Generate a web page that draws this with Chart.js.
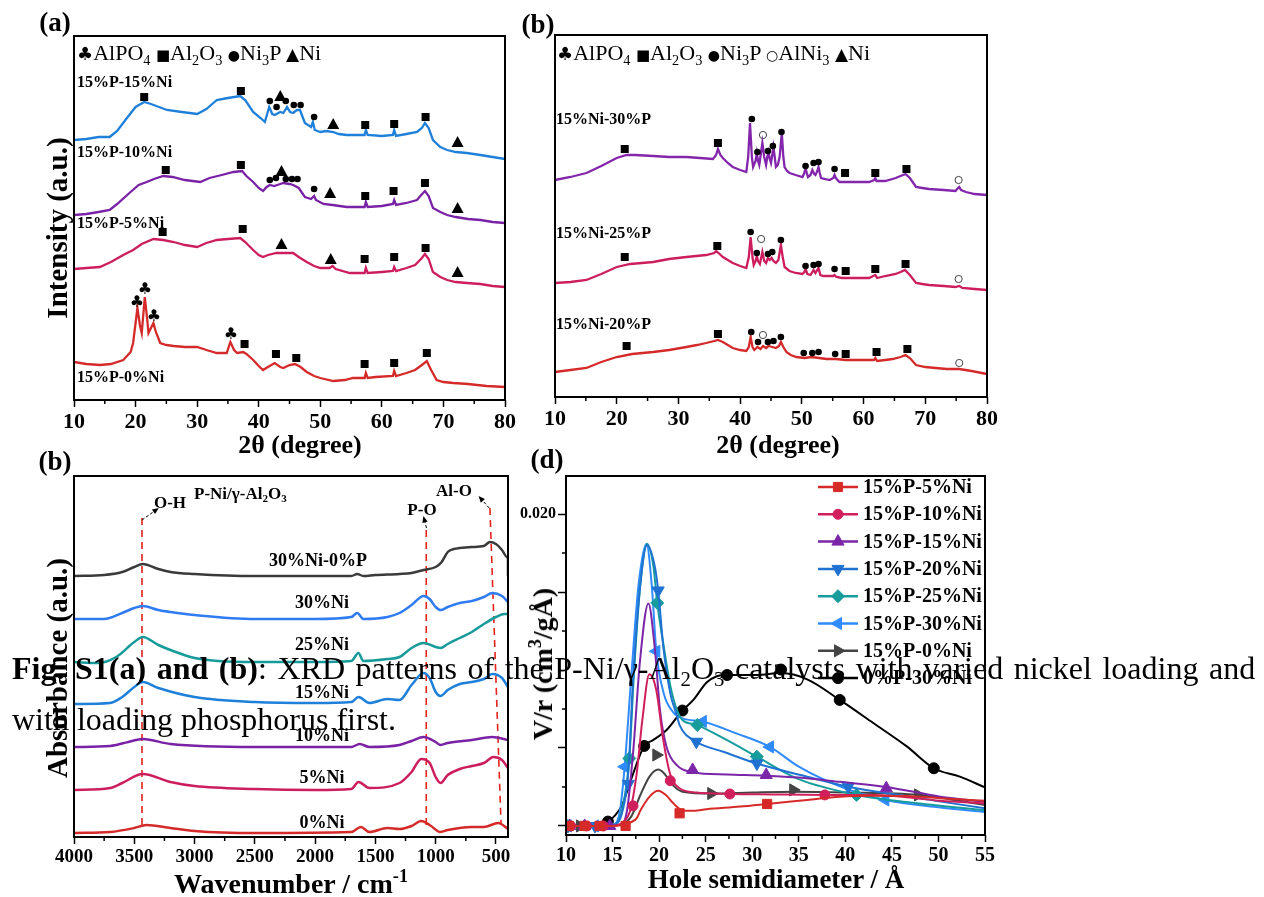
<!DOCTYPE html>
<html>
<head>
<meta charset="utf-8">
<script src="https://cdn.jsdelivr.net/npm/chart.js@4.4.1/dist/chart.umd.min.js"></script>
<style>
body { margin: 0; background: #fff; width: 1264px; height: 897px; position: relative; overflow: hidden;
       font-family: "Liberation Serif", "Times New Roman", serif; }
canvas { position: absolute; }
.t { position: absolute; white-space: nowrap; color: #000; line-height: 1; }
sub { font-size: 65%; vertical-align: -0.35em; line-height: 0; }
sup { font-size: 65%; vertical-align: 0.6em; line-height: 0; }
.sy { font-family: "DejaVu Sans", sans-serif; }
</style>
</head>
<body>
<canvas id="xrdA" width="520" height="460" style="left:0;top:0"></canvas>
<canvas id="xrdB" width="480" height="460" style="left:520px;top:0"></canvas>
<canvas id="ftir" width="520" height="437" style="left:0;top:460px"></canvas>
<canvas id="psd" width="480" height="437" style="left:520px;top:460px"></canvas>
<script>
const FONT = '"Liberation Serif", "Times New Roman", serif';

// ---- tick values ----
const XRD_TICKS = [10, 20, 30, 40, 50, 60, 70, 80];
const XRD_MINOR = [15, 25, 35, 45, 55, 65, 75];
const FTIR_TICKS = [4000, 3500, 3000, 2500, 2000, 1500, 1000, 500];
const FTIR_MINOR = [3750, 3250, 2750, 2250, 1750, 1250, 750];
const PSD_XTICKS = [10, 15, 20, 25, 30, 35, 40, 45, 50, 55];
const PSD_XMINOR = [12.5, 17.5, 22.5, 27.5, 32.5, 37.5, 42.5, 47.5, 52.5];
const PSD_YTICKS = [0, 0.005, 0.010, 0.015, 0.020];
const PSD_YLABELS = ['', '', '', '', '0.020'];
const PSD_YMINOR = [0.0025, 0.0075, 0.0125, 0.0175];

// ---- (a) XRD, 2theta vs intensity (a.u.) ----
const XRD_A_15NI = [[10,260],[12,261],[14,263],[15.8,263],[17,269],[18.6,282],[20,293],[21.4,298],[22.5,296],[25.1,290],[27.5,288],[30,286],[31.5,291],[33.2,300],[35,302],[37,304],[37.8,300],[39.1,288],[40.3,282],[41,278],[41.7,293],[42.2,286],[42.6,285],[43.5,288],[44,287],[44.6,293],[45.1,288],[45.6,287],[46.2,290],[46.7,290],[47.5,277],[48.5,273],[48.8,278],[49.1,270],[50,268],[51,269],[52.1,268],[53,266],[54.3,265],[56,265],[57.2,265],[57.4,270],[57.7,265],[60,264],[61.8,265],[62,270],[62.3,264],[64,266],[65.7,268],[66.5,272],[67,277],[67.6,272],[68.3,260],[69.5,253],[70.6,250],[72,248],[73.8,247],[76,245],[78,243],[80,241]];
const XRD_A_10NI = [[10,185],[12,186],[14,188],[15.8,190],[17,196],[19,207],[20.5,215],[21.8,218],[23,221],[24.5,224],[26,223],[28,220],[30.5,218],[32,222],[34,225],[35.9,228],[37.3,229],[38,224],[39.1,218],[40,212],[40.7,209],[41.3,213],[41.8,215],[42.5,214],[43.5,216],[44,217],[45,216],[45.6,215],[46.5,212],[47.5,203],[48.5,201],[49,204],[49.3,200],[50.5,196],[52,195],[54.3,193],[56,193],[57.2,193],[57.4,198],[57.7,193],[60,194],[61.8,196],[62,200],[62.3,195],[64,197],[65.7,200],[66.4,205],[67,209],[67.6,204],[68.3,192],[69.5,188],[70.6,185],[72,183],[74,181],[76,180],[78,178],[80,177]];
const XRD_A_5NI = [[10,131],[12,132],[14.2,133],[16,138],[18,145],[19.6,150],[21,156],[22.9,161],[24.5,160],[26.2,158],[28,155],[30,153],[31.5,157],[33.2,160],[35,161],[37,162],[37.8,158],[39.1,150],[40,145],[40.7,143],[41.5,145],[42.9,147],[44,147],[45.6,147],[46.5,143],[47.8,138],[49,134],[50,132],[51.5,132],[52,134],[52.5,131],[54.8,127],[56.5,127],[57.2,127],[57.4,132],[57.7,127],[60,128],[61.8,129],[62,133],[62.3,129],[64,132],[65.4,135],[66.5,142],[67,146],[67.6,141],[68.3,128],[69.5,123],[70.6,120],[72,118],[73.8,117],[76,116],[78,114],[80,113]];
const XRD_A_0NI = [[10,38],[12,36],[14.2,35],[16,36],[18,40],[19.2,48],[19.6,57],[20.3,92],[20.7,75],[21,67],[21.5,103],[21.9,80],[22.1,67],[22.5,72],[22.9,77],[23.3,68],[24,57],[25,55],[26.2,54],[28,53],[30,53],[31.5,50],[33.2,47],[34.8,47],[35.4,58],[36,50],[36.5,47],[37.5,48],[38,46],[39.1,40],[40,34],[40.7,30],[41.5,33],[42.6,37],[43.5,33],[44,32],[45,35],[45.9,36],[46.8,33],[47.8,28],[49,24],[50,22],[52.1,19],[54,20],[55.3,22],[56.8,22],[57.2,22],[57.4,27],[57.7,22],[59,23],[61.8,24],[62,29],[62.3,24],[64,27],[65.4,30],[66.5,35],[67.3,39],[68,30],[68.9,20],[70,18],[71.6,17],[74,16],[77,14],[80,13]];
const A_AL2O3 = [[21.4,303],[37.1,309],[57.3,275],[62.0,276],[67.1,283],[24.9,230],[37.1,235],[57.3,204],[61.9,209],[67.0,217],[24.4,168],[37.4,171],[57.2,141],[62.0,143],[67.1,152],[37.7,56],[42.8,46],[46.1,42],[57.2,36],[62.0,37],[67.3,47]];
const A_NI3P = [[41.8,299],[42.9,293],[44.4,299],[45.7,295],[46.8,295],[49.0,283],[41.8,220],[42.8,222],[44.4,221],[45.4,221],[46.3,221],[49.0,211]];
const A_NI = [[43.5,304],[52.1,276],[72.3,258],[43.7,229],[51.6,207],[72.3,192],[43.7,156],[51.7,141],[72.3,128]];
const A_ALPO4 = [[20.2,97],[21.5,110],[23.0,83],[35.5,65]];

// ---- (b) XRD, phosphorus loading ----
const XRD_B_30P = [[10,217],[12.5,220],[15.1,224],[17.5,231],[20,239],[21.6,242],[23,242],[25.9,241],[28.5,240],[31.3,240],[33.5,239],[35.6,238],[36.1,242],[36.4,248],[36.8,242],[37.2,239],[38,234],[38.8,230],[40,227],[41,225],[41.3,240],[41.6,274],[41.9,240],[42.1,230],[42.5,236],[42.7,244],[42.9,236],[43.1,232],[43.4,245],[43.6,254],[43.9,240],[44.2,232],[44.4,240],[44.6,245],[44.8,238],[45,234],[45.2,242],[45.4,250],[45.6,240],[45.8,230],[46.1,232],[46.4,240],[46.75,264],[47.0,240],[47.2,230],[47.6,226],[48,224],[49,222],[50.1,220],[50.4,224],[50.6,229],[50.8,224],[51,220],[51.4,222],[51.7,227],[52,223],[52.2,222],[52.5,226],[52.7,230],[52.9,224],[53.1,219],[54.5,217],[55.1,219],[55.3,222],[55.5,219],[56.1,215],[58,215],[60.9,215],[61.7,217],[61.9,219],[62.1,216],[63.5,216],[65.2,219],[66,221],[66.8,223],[67.5,219],[68.5,210],[69.5,209],[70.6,208],[73,207],[74.9,206],[75.3,209],[75.5,210],[75.8,207],[76.6,205],[78,203],[80,202]];
const XRD_B_25P = [[10,114],[12.5,115],[15.1,117],[17.5,123],[20,130],[22.2,133],[25.9,135],[28.5,138],[31.3,140],[34.5,142],[35.8,144],[36.1,146],[36.5,144],[37.2,140],[38,137],[38.8,134],[40,131],[41,129],[41.4,140],[41.7,160],[42.0,140],[42.2,132],[42.5,136],[42.7,141],[42.9,136],[43.2,133],[43.6,145],[43.9,136],[44.2,134],[44.5,139],[44.8,137],[45.1,139],[45.4,136],[45.8,134],[46.2,137],[46.6,152],[46.9,140],[47.2,130],[48,126],[49,124],[50.1,123],[50.4,125],[50.6,128],[50.9,123],[51.4,122],[51.9,127],[52.2,124],[52.7,129],[53,122],[53.5,121],[55.1,121],[55.3,122],[55.6,120],[56.5,119],[58,119],[60.9,119],[61.9,122],[62.2,119],[63.5,121],[65.2,123],[66,125],[66.7,127],[67.5,122],[68.5,114],[69.5,113],[70.6,112],[73,111],[74.9,110],[75.5,111],[76,109],[78,108],[80,107]];
const XRD_B_20P = [[10,25],[12.5,27],[15.1,29],[17.5,35],[20,40],[22.5,43],[25.9,45],[28.5,47],[31.3,50],[33,52],[34.5,54],[35.8,56],[36.4,57],[37.2,55],[38,52],[38.8,49],[40,47],[41,46],[41.4,50],[41.7,60],[42,50],[42.3,47],[42.8,50],[43.3,48],[43.7,51],[44.2,49],[44.6,51],[45.2,50],[45.8,49],[46.3,51],[46.6,55],[47,50],[47.5,45],[48.2,42],[49.1,40],[50.5,39],[51.5,40],[52.8,39],[54,38],[55.5,38],[57.1,37],[59,37],[61.7,37],[61.9,39],[62.2,36],[63.5,37],[64.7,38],[66,40],[66.8,42],[67.5,39],[68.5,32],[70,30],[71.7,29],[73.5,28],[75.5,28],[77.5,26],[80,23]];
const B_AL2O3 = [[21.3,248],[36.4,254],[57.0,224],[61.9,224],[66.95,228],[21.3,140],[36.3,151],[57.1,126],[61.9,128],[66.8,133],[21.6,51],[36.4,63],[57.1,43],[62.1,45],[67.1,48]];
const B_NI3P = [[41.9,278],[42.8,245],[44.5,246],[45.3,251],[46.7,265],[50.6,231],[51.9,234],[52.7,235],[55.3,228],[41.7,165],[42.7,144],[44.5,143],[45.2,145],[46.6,157],[50.6,131],[51.9,132],[52.7,133],[55.3,128],[41.8,65],[42.9,55],[44.5,55],[45.4,56],[46.6,60],[50.3,44],[51.7,44],[52.7,45],[55.4,43]];
const B_ALNI3 = [[43.7,262],[75.4,217],[43.4,158],[75.4,118],[43.7,62],[75.5,34]];

// ---- (b) FTIR, wavenumber vs absorbance (a.u.) ----
const FTIR_30NI_0P = [[4000,261],[3750,262],[3600,265],[3500,270],[3430,273],[3300,268],[3200,265],[3000,263],[2500,261],[2000,261],[1700,261],[1650,263],[1600,261],[1500,262],[1300,263],[1200,264],[1100,267],[1000,270],[950,275],[900,285],[850,288],[800,289],[700,290],[600,291],[550,295],[500,293],[450,287],[400,279],[400,261]];
const FTIR_30NI = [[4000,218],[3750,218],[3600,224],[3500,229],[3430,231],[3300,227],[3200,225],[3000,222],[2500,218],[2000,218],[1700,220],[1650,224],[1600,218],[1400,220],[1300,224],[1200,232],[1100,241],[1050,238],[1000,230],[960,227],[900,230],[800,234],[700,236],[600,240],[530,244],[450,241],[400,235]];
const FTIR_25NI = [[4000,175],[3800,174],[3650,180],[3500,195],[3430,200],[3300,192],[3200,187],[3000,179],[2800,176],[2500,175],[2000,175],[1700,176],[1640,184],[1600,176],[1400,178],[1300,180],[1200,189],[1100,194],[1000,190],[960,189],[900,193],[800,199],[700,205],[600,213],[500,220],[430,223],[400,223]];
const FTIR_15NI = [[4000,133],[3700,134],[3600,140],[3500,150],[3430,155],[3300,149],[3000,140],[2500,135],[2000,134],[1700,135],[1640,140],[1550,134],[1400,138],[1300,137],[1200,152],[1100,164],[1050,159],[1000,145],[960,141],[900,147],[800,153],[700,155],[600,158],[530,163],[450,159],[400,150]];
const FTIR_10NI = [[4000,90],[3700,91],[3550,95],[3430,98],[3200,93],[2500,90],[1700,90],[1630,93],[1550,90],[1300,92],[1200,96],[1100,100],[1000,95],[960,92],[900,94],[700,97],[530,100],[400,97]];
const FTIR_5NI = [[4000,47],[3700,49],[3600,54],[3430,63],[3200,55],[3000,51],[2500,48],[2000,47],[1700,48],[1640,55],[1550,49],[1300,54],[1200,65],[1120,78],[1050,74],[1000,60],[960,54],[900,62],[800,68],[700,71],[600,74],[520,80],[450,77],[400,69]];
const FTIR_0NI = [[4000,4],[3700,5],[3500,9],[3400,12],[3200,9],[3000,6],[2500,4],[1700,5],[1620,10],[1550,5],[1400,9],[1300,8],[1200,11],[1120,16],[1050,12],[960,5],[900,7],[700,10],[600,10],[480,14],[400,8]];
const FTIR_OH = [[3436,319],[3436,9]];
const FTIR_PO = [[1078,307],[1078,7]];
const FTIR_ALO = [[550,329],[458,14]];

// ---- (d) pore size distribution, r (A) vs V/r ----
const PSD_5NI = [[10,0],[12,0],[14,0],[15.5,0.00002],[16.5,0.0001],[17,0.00025],[17.6,0.0005],[18,0.001],[19,0.0019],[19.9,0.00226],[20.7,0.002],[21.5,0.00147],[22.6,0.00098],[23.5,0.00097],[25.1,0.00107],[28.7,0.00124],[31.6,0.00141],[35.9,0.00167],[39.4,0.00188],[43,0.00194],[46.6,0.00192],[50.2,0.00177],[55,0.00162]];
const PSD_5NI_PTS = [[10.3,0],[12,0],[13.6,0],[16.4,0],[22.2,0.00081],[31.6,0.00141]];
const PSD_10NI = [[10,0],[14,0],[15.2,0.00002],[16.2,0.00028],[16.9,0.001],[17.6,0.0034],[18.2,0.0068],[18.95,0.00972],[19.7,0.0087],[20.45,0.0055],[21.2,0.0033],[22.2,0.00242],[24,0.00214],[27.6,0.00205],[32,0.00202],[37.8,0.00199],[43,0.00199],[50.2,0.00162],[55,0.00145]];
const PSD_10NI_PTS = [[10.5,0],[12.2,0],[14,0],[17.2,0.00129],[21.2,0.0029],[27.6,0.00205],[37.8,0.00199]];
const PSD_15NI = [[10,0],[14,0],[15.8,0.0001],[16.5,0.0008],[17.2,0.00466],[17.95,0.0106],[18.85,0.01427],[19.55,0.0113],[20.1,0.0074],[20.8,0.00507],[21.9,0.0039],[23.6,0.00345],[27.3,0.0033],[31.5,0.00322],[35,0.0031],[39.4,0.00283],[44.4,0.0025],[50.2,0.00188],[55,0.00155]];
const PSD_15NI_PTS = [[10.4,0],[12,0],[14.7,0],[23.6,0.00359],[31.5,0.00327],[44.4,0.00242]];
const PSD_20NI = [[10,0],[14,0],[15.3,0.0001],[16,0.0008],[16.7,0.0035],[17.2,0.00936],[17.95,0.0153],[18.7,0.018],[19.55,0.0166],[19.9,0.0151],[20.45,0.0115],[21.2,0.0085],[21.9,0.0071],[22.2,0.00647],[24,0.0054],[26.9,0.00476],[30.5,0.004],[35.9,0.00316],[40.3,0.00252],[46.6,0.0019],[55,0.00113]];
const PSD_20NI_PTS = [[10.2,0],[13.1,0],[16.7,0.0027],[19.9,0.0151],[24,0.0054],[30.5,0.004],[40.3,0.00252]];
const PSD_25NI = [[10,0],[14,0],[15.3,0.0001],[16,0.001],[16.8,0.00433],[17.3,0.0098],[18,0.0156],[18.7,0.0181],[19.4,0.0166],[19.8,0.0143],[20.5,0.0115],[21.2,0.009],[22,0.0073],[22.5,0.0068],[24.1,0.00647],[27.3,0.0055],[30.5,0.00444],[35,0.003],[41.2,0.00199],[47,0.0015],[55,0.001]];
const PSD_25NI_PTS = [[10.2,0],[16.8,0.00433],[19.8,0.0143],[24.1,0.00647],[30.5,0.00444],[41.2,0.00199]];
const PSD_30NI = [[10,0],[14,0],[15.2,0.0001],[15.8,0.001],[16.3,0.0038],[17,0.0095],[17.8,0.0155],[18.65,0.0181],[19.2,0.0155],[19.7,0.0112],[20.5,0.0085],[21.5,0.0073],[22.5,0.0069],[24.7,0.0067],[28,0.006],[31.9,0.00507],[35,0.0038],[40,0.0024],[44.3,0.00167],[50,0.0012],[55,0.0009]];
const PSD_30NI_PTS = [[10.2,0],[13.1,0],[16.3,0.0038],[19.7,0.0112],[24.7,0.0067],[31.9,0.00507],[44.3,0.00167]];
const PSD_0NI = [[10,0],[14,0],[15,0.00002],[16,0.0001],[17,0.0006],[18,0.002],[19,0.0032],[19.9,0.00362],[20.5,0.0034],[21.5,0.0026],[22.5,0.0022],[25.6,0.00208],[30,0.00215],[34.4,0.0022],[40,0.00215],[47.8,0.00199],[55,0.00135]];
const PSD_0NI_PTS = [[11.5,0],[19.7,0.00455],[25.6,0.00208],[34.4,0.00231],[47.8,0.00199]];
const PSD_0P = [[10,0.00005],[12,0.00005],[13.5,0.0001],[14.5,0.00028],[15.3,0.0007],[16,0.0013],[17,0.003],[18.4,0.00513],[19.35,0.0055],[20.8,0.00615],[22.5,0.0074],[23.7,0.0081],[25.1,0.0092],[26.2,0.0096],[27.3,0.00968],[30.5,0.00968],[33.1,0.0098],[35.9,0.0094],[39.4,0.00808],[43,0.0066],[46.6,0.0051],[49.5,0.0037],[52.3,0.00316],[55,0.00247]];
const PSD_0P_PTS = [[14.5,0.00028],[18.4,0.00513],[22.5,0.0074],[27.3,0.00968],[33.1,0.01003],[39.4,0.00808],[49.5,0.0037]];

// ---- helpers ----
const pts = arr => arr.map(([x, y]) => ({ x, y }));

function drawMark(ctx, type, px, py) {
    ctx.fillStyle = '#000';
    ctx.strokeStyle = '#000';
    if (type === 'sq') {
        ctx.fillRect(px - 4, py - 4, 8, 8);
    } else if (type === 'dot') {
        ctx.beginPath(); ctx.arc(px, py, 3.3, 0, Math.PI * 2); ctx.fill();
    } else if (type === 'ring') {
        ctx.lineWidth = 1; ctx.strokeStyle = '#444';
        ctx.beginPath(); ctx.arc(px, py, 3.6, 0, Math.PI * 2); ctx.stroke();
    } else if (type === 'tri') {
        ctx.beginPath(); ctx.moveTo(px, py - 6); ctx.lineTo(px + 6, py + 5); ctx.lineTo(px - 6, py + 5); ctx.closePath(); ctx.fill();
    } else if (type === 'club') {
        ctx.font = '16px "DejaVu Sans"'; ctx.textAlign = 'center'; ctx.textBaseline = 'middle';
        ctx.fillText('\u2663', px, py);
    }
}

// frame + short minor ticks
const framePlugin = {
    id: 'frame',
    afterDraw(chart, args, o) {
        const { ctx, chartArea: a, scales } = chart;
        ctx.save();
        ctx.strokeStyle = '#000';
        ctx.lineWidth = 2;
        ctx.strokeRect(a.left, a.top, a.right - a.left, a.bottom - a.top);
        ctx.lineWidth = 1.5;
        ctx.beginPath();
        (o.minorX || []).forEach(v => {
            const x = scales.x.getPixelForValue(v);
            ctx.moveTo(x, a.bottom); ctx.lineTo(x, a.bottom + 4);
        });
        (o.minorY || []).forEach(v => {
            const y = scales.y.getPixelForValue(v);
            ctx.moveTo(a.left, y); ctx.lineTo(a.left - 4, y);
        });
        ctx.stroke();
        ctx.restore();
    }
};

// phase symbols above the XRD peaks
const marksPlugin = {
    id: 'marks',
    afterDatasetsDraw(chart, args, o) {
        if (!o.groups) return;
        const { ctx, scales: { x, y } } = chart;
        ctx.save();
        o.groups.forEach(g => g.pts.forEach(([vx, vy]) => drawMark(ctx, g.type, x.getPixelForValue(vx), y.getPixelForValue(vy))));
        ctx.restore();
    }
};

// small dashed arrows of the FTIR panel
const arrowPlugin = {
    id: 'arrows',
    afterDatasetsDraw(chart, args, o) {
        if (!o.list) return;
        const { ctx, scales: { x, y } } = chart;
        ctx.save();
        o.list.forEach(({ from, to }) => {
            const x0 = x.getPixelForValue(from[0]), y0 = y.getPixelForValue(from[1]);
            const x1 = x.getPixelForValue(to[0]), y1 = y.getPixelForValue(to[1]);
            const ang = Math.atan2(y1 - y0, x1 - x0);
            ctx.strokeStyle = '#000'; ctx.fillStyle = '#000'; ctx.lineWidth = 1;
            ctx.setLineDash([3, 2]);
            ctx.beginPath(); ctx.moveTo(x0, y0); ctx.lineTo(x1 - 5 * Math.cos(ang), y1 - 5 * Math.sin(ang)); ctx.stroke();
            ctx.setLineDash([]);
            ctx.beginPath();
            ctx.moveTo(x1, y1);
            ctx.lineTo(x1 - 7 * Math.cos(ang - 0.4), y1 - 7 * Math.sin(ang - 0.4));
            ctx.lineTo(x1 - 7 * Math.cos(ang + 0.4), y1 - 7 * Math.sin(ang + 0.4));
            ctx.closePath(); ctx.fill();
        });
        ctx.restore();
    }
};

// legend with line + marker for panel (d)
const legendPlugin = {
    id: 'lineLegend',
    afterDraw(chart, args, o) {
        if (!o.left) return;
        const ctx = chart.ctx;
        const marks = chart.data.datasets.filter(d => d.isMark);
        ctx.save();
        marks.forEach((d, i) => {
            const y = o.top + i * o.gap;
            ctx.strokeStyle = d.borderColor; ctx.lineWidth = 2.5;
            ctx.beginPath(); ctx.moveTo(o.left, y); ctx.lineTo(o.left + 40, y); ctx.stroke();
            ctx.fillStyle = d.backgroundColor; ctx.lineWidth = 1;
            Chart.helpers.drawPoint(ctx, { pointStyle: d.pointStyle, rotation: d.pointRotation, radius: d.pointRadius, borderWidth: 1 }, o.left + 20, y);
            ctx.fillStyle = '#000';
            ctx.font = 'bold 20px ' + FONT;
            ctx.textAlign = 'left'; ctx.textBaseline = 'middle';
            ctx.fillText(d.label, o.left + 45, y + 1);
        });
        ctx.restore();
    }
};

Chart.register(framePlugin, marksPlugin, arrowPlugin, legendPlugin);
Chart.defaults.font.family = FONT;
Chart.defaults.color = '#000';

function xAxis(min, max, ticks, size, height, reverse) {
    return {
        type: 'linear', min, max, reverse: !!reverse,
        afterBuildTicks: s => { s.ticks = ticks.map(v => ({ value: v })); },
        afterFit: s => { s.height = height; },
        grid: { drawOnChartArea: false, tickLength: 7, tickWidth: 1.5, tickColor: '#000' },
        border: { display: false },
        ticks: { color: '#000', font: { size, weight: 'bold' }, padding: 2, maxRotation: 0, autoSkip: false, callback: v => String(v) }
    };
}

function lineSet(data, color, width, smooth) {
    return {
        data: pts(data), borderColor: color, borderWidth: width, pointRadius: 0, fill: false,
        tension: smooth ? 0.4 : 0, cubicInterpolationMode: smooth ? 'monotone' : 'default'
    };
}

const baseOpts = { responsive: false, animation: false, events: [], devicePixelRatio: 1 };

// (a)
new Chart(document.getElementById('xrdA'), {
    type: 'line',
    data: { datasets: [
        lineSet(XRD_A_15NI, '#1f80da', 2.3),
        lineSet(XRD_A_10NI, '#7a22a6', 2.3),
        lineSet(XRD_A_5NI, '#cc1e5e', 2.3),
        lineSet(XRD_A_0NI, '#d42a2a', 2.3)
    ] },
    options: { ...baseOpts,
        layout: { padding: { left: 74, right: 15, top: 36, bottom: 0 } },
        scales: { x: xAxis(10, 80, XRD_TICKS, 22, 60), y: { display: false, min: 0, max: 364 } },
        plugins: { legend: { display: false }, tooltip: { enabled: false },
            frame: { minorX: XRD_MINOR },
            marks: { groups: [ { type: 'sq', pts: A_AL2O3 }, { type: 'dot', pts: A_NI3P }, { type: 'tri', pts: A_NI }, { type: 'club', pts: A_ALPO4 } ] } }
    }
});

// (b) top
new Chart(document.getElementById('xrdB'), {
    type: 'line',
    data: { datasets: [
        lineSet(XRD_B_30P, '#8326ac', 2.3),
        lineSet(XRD_B_25P, '#cc1e5e', 2.3),
        lineSet(XRD_B_20P, '#d42a2a', 2.3)
    ] },
    options: { ...baseOpts,
        layout: { padding: { left: 35, right: 12, top: 35, bottom: 0 } },
        scales: { x: xAxis(10, 80, XRD_TICKS, 22, 63), y: { display: false, min: 0, max: 362 } },
        plugins: { legend: { display: false }, tooltip: { enabled: false },
            frame: { minorX: XRD_MINOR },
            marks: { groups: [ { type: 'sq', pts: B_AL2O3 }, { type: 'dot', pts: B_NI3P }, { type: 'ring', pts: B_ALNI3 } ] } }
    }
});

// (b) FTIR
const dashed = data => ({ data: pts(data), borderColor: '#e3231c', borderWidth: 1.6, borderDash: [7, 5], pointRadius: 0, fill: false });
new Chart(document.getElementById('ftir'), {
    type: 'line',
    data: { datasets: [
        lineSet(FTIR_30NI_0P, '#3a3a3a', 2.5, true),
        lineSet(FTIR_30NI, '#2f7cf2', 2.5, true),
        lineSet(FTIR_25NI, '#179a9a', 2.5, true),
        lineSet(FTIR_15NI, '#1f80da', 2.5, true),
        lineSet(FTIR_10NI, '#7a22a6', 2.5, true),
        lineSet(FTIR_5NI, '#cc1e5e', 2.5, true),
        lineSet(FTIR_0NI, '#d42a2a', 2.5, true),
        dashed(FTIR_OH), dashed(FTIR_PO), dashed(FTIR_ALO)
    ] },
    options: { ...baseOpts,
        layout: { padding: { left: 74, right: 12, top: 16, bottom: 0 } },
        scales: { x: xAxis(400, 4000, FTIR_TICKS, 19, 60, true), y: { display: false, min: 0, max: 361 } },
        plugins: { legend: { display: false }, tooltip: { enabled: false },
            frame: { minorX: FTIR_MINOR },
            arrows: { list: [ { from: [3436, 317], to: [3297, 329] }, { from: [1076, 309], to: [1102, 321] }, { from: [556, 329], to: [644, 341] } ] } }
    }
});

// (d) pore size distribution
const PSD_SERIES = [
    { label: '15%P-5%Ni', line: PSD_5NI, marks: PSD_5NI_PTS, color: '#d62a28', style: 'rect', rot: 0, r: 6.5 },
    { label: '15%P-10%Ni', line: PSD_10NI, marks: PSD_10NI_PTS, color: '#d01f5c', style: 'circle', rot: 0, r: 5 },
    { label: '15%P-15%Ni', line: PSD_15NI, marks: PSD_15NI_PTS, color: '#7b26a8', style: 'triangle', rot: 0, r: 7 },
    { label: '15%P-20%Ni', line: PSD_20NI, marks: PSD_20NI_PTS, color: '#1f72d2', style: 'triangle', rot: 180, r: 7 },
    { label: '15%P-25%Ni', line: PSD_25NI, marks: PSD_25NI_PTS, color: '#169c9c', style: 'rectRot', rot: 0, r: 6.5 },
    { label: '15%P-30%Ni', line: PSD_30NI, marks: PSD_30NI_PTS, color: '#2f8bff', style: 'triangle', rot: 270, r: 7 },
    { label: '15%P-0%Ni', line: PSD_0NI, marks: PSD_0NI_PTS, color: '#444444', style: 'triangle', rot: 90, r: 7 },
    { label: '0%P-30%Ni', line: PSD_0P, marks: PSD_0P_PTS, color: '#000000', style: 'circle', rot: 0, r: 5.5 }
];
const psdSets = [];
PSD_SERIES.forEach(s => {
    psdSets.push(lineSet(s.line, s.color, 2, true));
    psdSets.push({ label: s.label, isMark: true, data: pts(s.marks), showLine: false,
        pointStyle: s.style, pointRotation: s.rot, pointRadius: s.r,
        backgroundColor: s.color, borderColor: s.color, pointBorderWidth: 1 });
});
new Chart(document.getElementById('psd'), {
    type: 'line',
    data: { datasets: psdSets },
    options: { ...baseOpts,
        layout: { padding: { left: 0, right: 15, top: 16, bottom: 0 } },
        scales: {
            x: xAxis(10, 55, PSD_XTICKS, 20, 62),
            y: { type: 'linear', min: -0.00058, max: 0.02244,
                afterBuildTicks: s => { s.ticks = PSD_YTICKS.map(v => ({ value: v })); },
                afterFit: s => { s.width = 46; },
                grid: { drawOnChartArea: false, tickLength: 8, tickWidth: 1.5, tickColor: '#000' },
                border: { display: false },
                ticks: { color: '#000', font: { size: 16, weight: 'bold' }, padding: 2,
                    callback: (v, i) => PSD_YLABELS[PSD_YTICKS.findIndex(t => Math.abs(t - v) < 1e-9)] || '' } }
        },
        plugins: { legend: { display: false }, tooltip: { enabled: false },
            frame: { minorX: PSD_XMINOR, minorY: PSD_YMINOR },
            lineLegend: { left: 298, top: 27, gap: 27.3 } }
    }
});

// ---- text ----
function put(html, x, y, o = {}) {
    const d = document.createElement('div');
    d.className = 't';
    d.innerHTML = html;
    d.style.left = x + 'px';
    d.style.top = y + 'px';
    d.style.fontSize = (o.size || 16) + 'px';
    if (o.bold) d.style.fontWeight = 'bold';
    const tx = o.left ? '0' : '-50%';
    const ty = o.top ? '0' : '-50%';
    d.style.transform = `translate(${tx},${ty})` + (o.rot ? ` rotate(${o.rot}deg)` : '');
    document.body.appendChild(d);
    return d;
}

put('(a)', 55, 22, { size: 27, bold: true });
put('(b)', 538, 24, { size: 27, bold: true });
put('(b)', 55, 461, { size: 27, bold: true });
put('(d)', 547, 459, { size: 27, bold: true });

put('2θ (degree)', 300, 445, { size: 26, bold: true });
put('2θ (degree)', 778, 445, { size: 26, bold: true });
put('Intensity (a.u.)', 57, 228, { size: 29, bold: true, rot: -90 });
put('Absorbance (a.u.)', 57, 668, { size: 29, bold: true, rot: -90 });
put('Wavenumber / cm<sup>-1</sup>', 291, 884, { size: 28, bold: true });
put('V/r (cm<sup>3</sup>/gÅ)', 543, 664, { size: 28, bold: true, rot: -90 });
put('Hole semidiameter / Å', 776, 879, { size: 27, bold: true });

const club = '<span class="sy" style="font-size:18px">\u2663</span>';
const sq = '<span class="sy" style="font-size:15px">\u25A0</span>';
const dot = '<span class="sy" style="font-size:14px">\u25CF</span>';
const ring = '<span class="sy" style="font-size:14px">\u25CB</span>';
const tri = '<span class="sy" style="font-size:17px">\u25B2</span>';
put(`${club}AlPO<sub>4</sub> ${sq}Al<sub>2</sub>O<sub>3</sub> ${dot}Ni<sub>3</sub>P ${tri}Ni`, 77, 53, { size: 22, left: true });
put(`${club}AlPO<sub>4</sub> ${sq}Al<sub>2</sub>O<sub>3</sub> ${dot}Ni<sub>3</sub>P ${ring}AlNi<sub>3</sub> ${tri}Ni`, 557, 53, { size: 22, left: true });

[['15%P-15%Ni', 82], ['15%P-10%Ni', 152], ['15%P-5%Ni', 223], ['15%P-0%Ni', 377]]
    .forEach(([s, y]) => put(s, 77, y, { size: 16, bold: true, left: true }));
[['15%Ni-30%P', 119], ['15%Ni-25%P', 233], ['15%Ni-20%P', 324]]
    .forEach(([s, y]) => put(s, 556, y, { size: 16, bold: true, left: true }));
[['30%Ni-0%P', 318, 560], ['30%Ni', 322, 602], ['25%Ni', 322, 644], ['15%Ni', 322, 692], ['10%Ni', 322, 735], ['5%Ni', 322, 777], ['0%Ni', 322, 822]]
    .forEach(([s, x, y]) => put(s, x, y, { size: 18, bold: true }));

put('O-H', 170, 502, { size: 17, bold: true });
put('P-Ni/γ-Al<sub>2</sub>O<sub>3</sub>', 194, 493, { size: 17, bold: true, left: true });
put('P-O', 422, 509, { size: 17, bold: true });
put('Al-O', 454, 490, { size: 17, bold: true });

// caption that sits over the figure
const cap1 = put('<b>Fig. S1(a) and (b)</b>: XRD patterns of the P-Ni/γ-Al<sub>2</sub>O<sub>3</sub> catalysts with varied nickel loading and', 12, 652, { size: 32, left: true, top: true });
const gaps = cap1.textContent.split(' ').length - 1;
cap1.style.wordSpacing = ((1243 - cap1.offsetWidth) / gaps) + 'px';
put('with loading phosphorus first.', 12, 703, { size: 32, left: true, top: true });
</script>
</body>
</html>
